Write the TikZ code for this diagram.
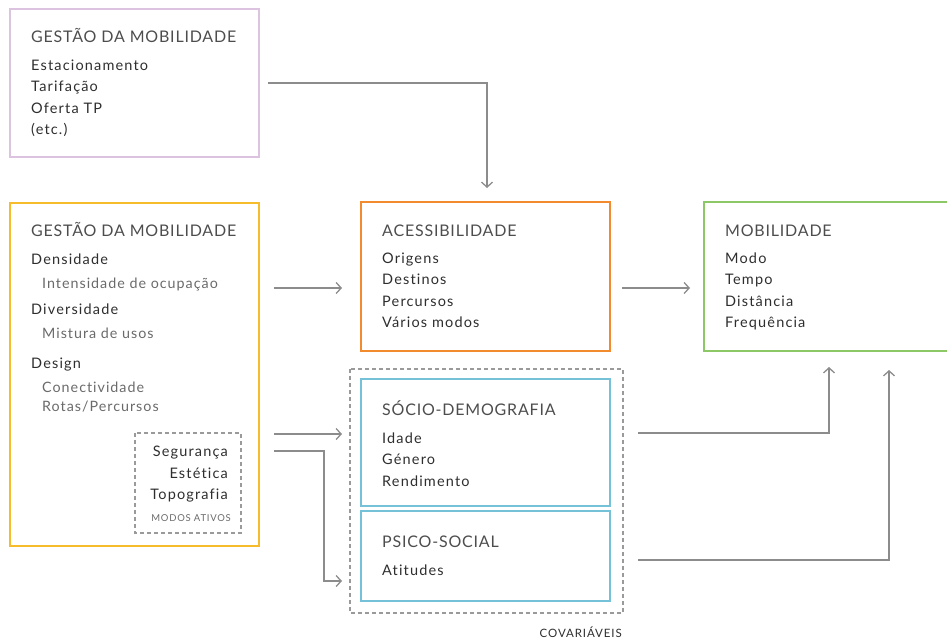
\documentclass[tikz,border=0pt]{standalone}
\usepackage{fontspec}
\setmainfont{Lato}
\newfontfamily\bodyfont[LetterSpace=8,Ligatures=NoCommon]{Lato}
\newfontfamily\subfont[LetterSpace=7,Ligatures=NoCommon]{Lato}
\newfontfamily\titlefont[LetterSpace=5,Ligatures=NoCommon]{Lato}
\newfontfamily\smallfont[LetterSpace=8,Ligatures=NoCommon]{Lato}
\usetikzlibrary{arrows.meta}
\definecolor{cpurple}{HTML}{DCC4E0}
\definecolor{cyellow}{HTML}{F6BC2C}
\definecolor{corange}{HTML}{F28A2E}
\definecolor{cgreen}{HTML}{8DC866}
\definecolor{cblue}{HTML}{74C1D8}
\definecolor{carrow}{HTML}{8C8C8C}
\definecolor{cdash}{HTML}{9A9A9A}
\definecolor{ctext}{HTML}{2E2E2E}
\definecolor{csub}{HTML}{6A6A6A}
\tikzset{
  box/.style={line width=2pt},
  dbox/.style={line width=2pt, draw=cdash, dash pattern=on 4pt off 3pt},
  ttl/.style={anchor=base west, inner sep=0pt, font=\titlefont\fontsize{16}{16}\selectfont, text=ctext!85},
  item/.style={anchor=base west, inner sep=0pt, font=\bodyfont\fontsize{14.5}{14.5}\selectfont, text=ctext},
  sub/.style={anchor=base west, inner sep=0pt, font=\subfont\fontsize{14.3}{14.3}\selectfont, text=csub},
  ritem/.style={anchor=base east, inner sep=0pt, font=\bodyfont\fontsize{14.5}{14.5}\selectfont, text=ctext},
  small/.style={anchor=base east, inner sep=0pt, font=\smallfont\fontsize{9.5}{9.5}\selectfont, text=csub},
  arr/.style={line width=2pt, draw=carrow, -{Straight Barb[length=5pt,width=11pt,line width=1.3pt]}},
}
\begin{document}
\begin{tikzpicture}[x=1pt,y=-1pt]
\useasboundingbox (0,0) rectangle (947,640);
% boxes
\draw[box, draw=cpurple] (10,9) rectangle (259,157);
\draw[box, draw=cyellow] (10,203) rectangle (259,546);
\draw[box, draw=corange] (361,202) rectangle (610,351);
\draw[box, draw=cgreen] (948,202) -- (704,202) -- (704,351) -- (948,351);
\draw[dbox] (350,369) rectangle (623,613);
\draw[box, draw=cblue] (361,379) rectangle (610,506);
\draw[box, draw=cblue] (361,511) rectangle (610,601);
\draw[dbox] (135,433) rectangle (241,533);
% box 1
\node[ttl] (t1) at (31,42) {GESTÃO DA MOBILIDADE};
\node[item] (a1) at (31,70) {Estacionamento};
\node[item] (a2) at (31,91.5) {Tarifação};
\node[item] (a3) at (31,113) {Oferta TP};
\node[item] (a4) at (31,134.5) {(etc.)};
% box 2
\node[ttl] (t2) at (31,236) {GESTÃO DA MOBILIDADE};
\node[item] (b1) at (31,264) {Densidade};
\node[sub] (b2) at (42,288) {Intensidade de ocupação};
\node[item] (b3) at (31,314) {Diversidade};
\node[sub] (b4) at (42,338) {Mistura de usos};
\node[item] (b5) at (31,368) {Design};
\node[sub] (b6) at (42,392) {Conectividade};
\node[sub] (b7) at (42,411) {Rotas/Percursos};
\node[ritem] (c1) at (228,456) {Segurança};
\node[ritem] (c2) at (228,478) {Estética};
\node[ritem] (c3) at (228,499) {Topografia};
\node[small] (c4) at (231,521) {MODOS ATIVOS};
% acessibilidade
\node[ttl] (t3) at (382,236) {ACESSIBILIDADE};
\node[item] (d1) at (382,263) {Origens};
\node[item] (d2) at (382,284.5) {Destinos};
\node[item] (d3) at (382,306) {Percursos};
\node[item] (d4) at (382,327.5) {Vários modos};
% mobilidade
\node[ttl] (t4) at (725,236) {MOBILIDADE};
\node[item] (e1) at (725,263) {Modo};
\node[item] (e2) at (725,284.5) {Tempo};
\node[item] (e3) at (725,306) {Distância};
\node[item] (e4) at (725,327.5) {Frequência};
% socio
\node[ttl] (t5) at (382,415) {SÓCIO-DEMOGRAFIA};
\node[item] (f1) at (382,443) {Idade};
\node[item] (f2) at (382,464.5) {Género};
\node[item] (f3) at (382,486) {Rendimento};
% psico
\node[ttl] (t6) at (382,547) {PSICO-SOCIAL};
\node[item] (g1) at (382,575) {Atitudes};
\node[small, font=\smallfont\fontsize{11.5}{11.5}\selectfont, text=ctext] (cov) at (622,637) {COVARIÁVEIS};
% arrows
\coordinate (p1) at (268,83);
\coordinate (p1e) at (487,188);
\draw[arr] (p1) -| (p1e);
\coordinate (p2) at (274,288); \coordinate (p2e) at (342,288);
\draw[arr] (p2) -- (p2e);
\coordinate (p3) at (622,288); \coordinate (p3e) at (690,288);
\draw[arr] (p3) -- (p3e);
\coordinate (p4) at (274,434); \coordinate (p4e) at (342,434);
\draw[arr] (p4) -- (p4e);
\coordinate (p5) at (274,451); \coordinate (p5m) at (324,451); \coordinate (p5e) at (342,581);
\draw[arr] (p5) -- (p5m) |- (p5e);
\coordinate (p6) at (638,433); \coordinate (p6e) at (829,367);
\draw[arr] (p6) -| (p6e);
\coordinate (p7) at (638,560); \coordinate (p7e) at (889,370);
\draw[arr] (p7) -| (p7e);
\end{tikzpicture}
\end{document}
